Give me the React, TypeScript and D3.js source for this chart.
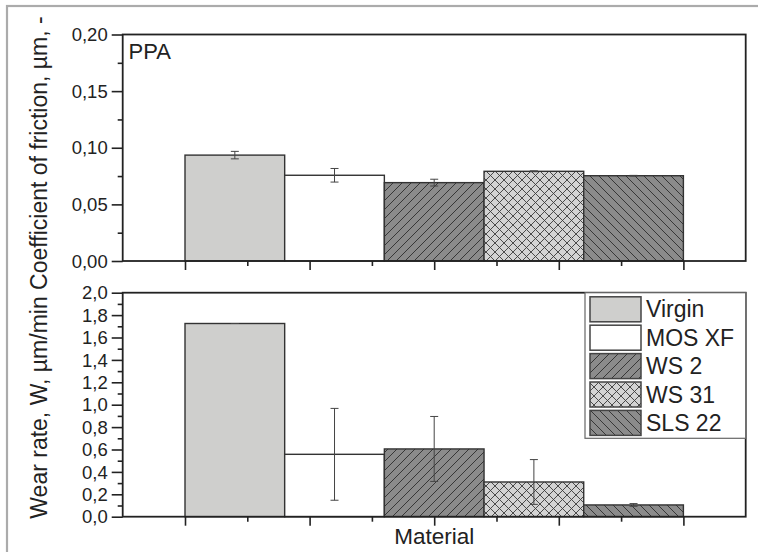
import { useEffect, useRef } from 'react';
import * as d3 from 'd3';

// ── Data ──
const MATERIALS = ['Virgin', 'MOS XF', 'WS 2', 'WS 31', 'SLS 22'];
const COF_MEAN  = [0.0935, 0.0757, 0.0692, 0.0792, 0.0753];
const COF_ERR   = [0.0033, 0.006, 0.003, 0.0004, 0.0003];
const WEAR_MEAN = [1.725, 0.557, 0.605, 0.31, 0.105];
const WEAR_ERR  = [0, 0.41, 0.29, 0.2, 0.012];
const COF_TICKS  = [0, 0.05, 0.1, 0.15, 0.2];
const WEAR_TICKS = [0, 0.2, 0.4, 0.6, 0.8, 1.0, 1.2, 1.4, 1.6, 1.8, 2.0];
const X_MAJOR = [1, 3, 5, 7, 9];
const X_MINOR = [2, 4, 6, 8];

// ── Layout ──
const W = 758;
const H = 552;
const LEFT  = 122.7;
const RIGHT = 745.7;
const TOP_PANEL = { top: 34.5, bottom: 261 };
const BOT_PANEL = { top: 292.7, bottom: 516.7 };
const LEGEND = { left: 585, bottom: 438.3 };
const FONT = "'Liberation Sans', Arial, Helvetica, sans-serif";
const INK = '#222';

const FILLS = ['#cfcfcd', '#ffffff', 'url(#hatchFwd)', 'url(#cross)', 'url(#hatchBack)'];

const comma = (spec: string) => (d: number) => d3.format(spec)(d).replace('.', ',');

const x = d3.scaleLinear().domain([0, 10]).range([LEFT, RIGHT]);
const band = d3.scaleBand<string>().domain(MATERIALS).range([x(1), x(9)]).padding(0);

interface PanelProps {
  means:  number[];
  errs:   number[];
  yMax:   number;
  ticks:  number[];
  minor:  number[];
  fmt:    (d: number) => string;
  top:    number;
  bottom: number;
}

function Panel({ means, errs, yMax, ticks, minor, fmt, top, bottom }: PanelProps) {
  const yRef = useRef<SVGGElement>(null);
  const xRef = useRef<SVGGElement>(null);
  const y = d3.scaleLinear().domain([0, yMax]).range([bottom, top]);

  useEffect(() => {
    const yg = d3.select(yRef.current);
    yg.selectAll('*').remove();
    yg.append('g').call(d3.axisLeft(y).tickValues(ticks).tickSize(11).tickSizeOuter(0).tickFormat((d) => fmt(d as number)));
    yg.append('g').call(d3.axisLeft(y).tickValues(minor).tickSize(5).tickSizeOuter(0).tickFormat(() => ''));
    yg.selectAll('.domain').remove();
    yg.selectAll('line').attr('stroke', INK).attr('stroke-width', 1.6);
    yg.selectAll('.tick text')
      .attr('x', -15)
      .attr('dy', '0.33em')
      .attr('font-family', FONT)
      .attr('font-size', 18.5)
      .attr('fill', INK);

    const xg = d3.select(xRef.current);
    xg.selectAll('*').remove();
    xg.append('g').call(d3.axisBottom(x).tickValues(X_MAJOR).tickSize(9).tickSizeOuter(0).tickFormat(() => ''));
    xg.append('g').call(d3.axisBottom(x).tickValues(X_MINOR).tickSize(5).tickSizeOuter(0).tickFormat(() => ''));
    xg.selectAll('.domain').remove();
    xg.selectAll('line').attr('stroke', INK).attr('stroke-width', 1.6);
  });

  return (
    <g>
      {MATERIALS.map((m, i) => (
        <rect
          key={m}
          x={band(m)} width={band.bandwidth()}
          y={y(means[i])} height={bottom - y(means[i])}
          fill={FILLS[i]} stroke="#333" strokeWidth={1.4}
        />
      ))}
      {MATERIALS.map((m, i) => {
        const cx = (band(m) ?? 0) + band.bandwidth() / 2;
        const y1 = y(means[i] + errs[i]);
        const y2 = y(means[i] - errs[i]);
        return (
          <g key={m} stroke="#444" strokeWidth={1}>
            <line x1={cx} x2={cx} y1={y1} y2={y2} />
            <line x1={cx - 4} x2={cx + 4} y1={y1} y2={y1} />
            <line x1={cx - 4} x2={cx + 4} y1={y2} y2={y2} />
          </g>
        );
      })}
      <rect x={LEFT} y={top} width={RIGHT - LEFT} height={bottom - top} fill="none" stroke={INK} strokeWidth={1.8} />
      <g ref={yRef} transform={`translate(${LEFT},0)`} />
      <g ref={xRef} transform={`translate(0,${bottom})`} />
    </g>
  );
}

export default function App() {
  const legendRow = d3.scaleBand<string>().domain(MATERIALS).range([295.2, 437.2]);

  return (
    <div style={{ position: 'absolute', left: 0, top: 0 }}>
      <svg width={W} height={H} style={{ display: 'block', background: '#fff' }} fontFamily={FONT}>
        <defs>
          <pattern id="hatchFwd" patternUnits="userSpaceOnUse" width={9} height={9}>
            <rect width={9} height={9} fill="#8b8b8b" />
            <path d="M-1,1 l2,-2 M0,9 l9,-9 M8,10 l2,-2" stroke="#2e2e2e" strokeWidth={0.9} />
          </pattern>
          <pattern id="hatchBack" patternUnits="userSpaceOnUse" width={9} height={9}>
            <rect width={9} height={9} fill="#8b8b8b" />
            <path d="M-1,8 l2,2 M0,0 l9,9 M8,-1 l2,2" stroke="#2e2e2e" strokeWidth={0.9} />
          </pattern>
          <pattern id="cross" patternUnits="userSpaceOnUse" width={9} height={9}>
            <rect width={9} height={9} fill="#d3d3d3" />
            <path d="M-1,1 l2,-2 M0,9 l9,-9 M8,10 l2,-2 M-1,8 l2,2 M0,0 l9,9 M8,-1 l2,2" stroke="#3a3a3a" strokeWidth={0.9} />
          </pattern>
        </defs>

        {/* outer gray frame (only top/left visible) */}
        <rect x={7} y={6} width={780} height={580} fill="none" stroke="#ababab" strokeWidth={2.2} />

        <Panel
          means={COF_MEAN} errs={COF_ERR} yMax={0.2}
          ticks={COF_TICKS} minor={d3.range(0.025, 0.2, 0.05)}
          fmt={comma('.2f')} top={TOP_PANEL.top} bottom={TOP_PANEL.bottom}
        />
        <Panel
          means={WEAR_MEAN} errs={WEAR_ERR} yMax={2.0}
          ticks={WEAR_TICKS} minor={d3.range(0.1, 2.0, 0.2)}
          fmt={comma('.1f')} top={BOT_PANEL.top} bottom={BOT_PANEL.bottom}
        />

        {/* panel tag */}
        <text x={128.5} y={58.5} fontSize={22} fill={INK}>PPA</text>

        {/* legend */}
        <rect x={LEGEND.left} y={BOT_PANEL.top} width={RIGHT - LEGEND.left} height={LEGEND.bottom - BOT_PANEL.top} fill="#fff" stroke="#666" strokeWidth={1.2} />
        {MATERIALS.map((m, i) => {
          const ry = legendRow(m) ?? 0;
          return (
            <g key={m}>
              <rect x={590} y={ry + 1.6} width={51} height={25} fill={FILLS[i]} stroke="#444" strokeWidth={1.5} />
              <text x={646} y={ry + 1.6 + 12.5 + 8} fontSize={23} fill={INK}>{m}</text>
            </g>
          );
        })}

        {/* axis titles */}
        <text transform="translate(46.5,267.5) rotate(-90)" textAnchor="middle" fontSize={23} fill={INK}>
          Wear rate, W, µm/min Coefficient of friction, µm, -
        </text>
        <text x={(LEFT + RIGHT) / 2} y={544.3} textAnchor="middle" fontSize={22.5} fill={INK}>
          Material
        </text>
      </svg>
    </div>
  );
}
